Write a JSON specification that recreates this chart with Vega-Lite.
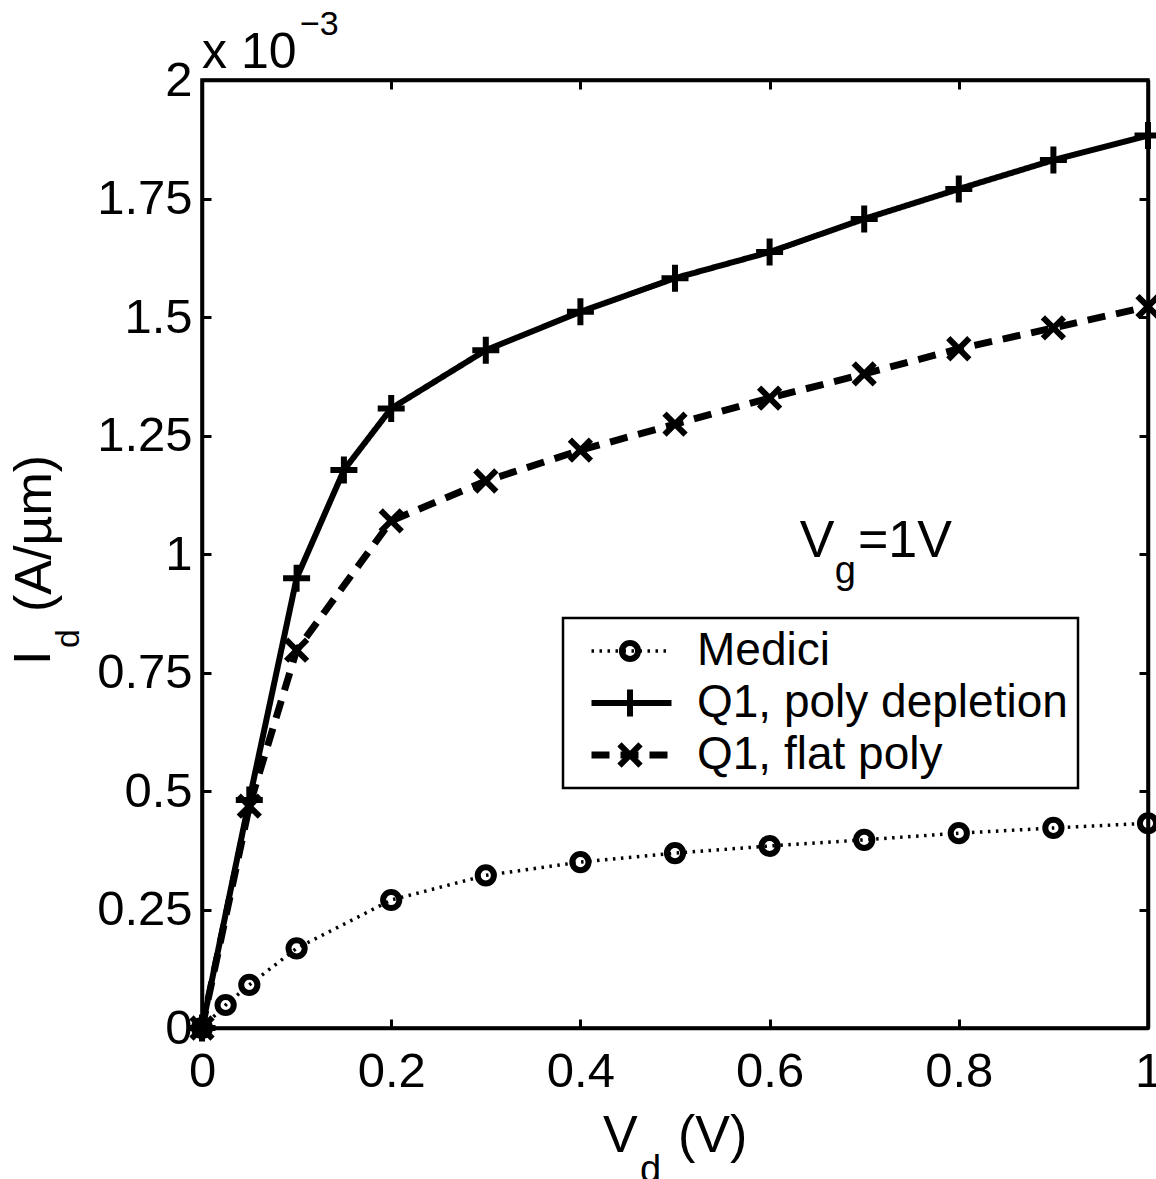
{
  "$schema": "https://vega.github.io/schema/vega-lite/v6.json",
  "width": 946,
  "height": 948,
  "autosize": {"type": "none"},
  "padding": {"left": 202, "top": 80, "right": 8, "bottom": 151},
  "background": "white",
  "config": {
    "font": "Liberation Sans",
    "view": {"stroke": "black", "strokeWidth": 3.5},
    "axis": {
      "domainColor": "black", "domainWidth": 3.5, "tickColor": "black", "tickWidth": 3,
      "grid": false, "labelColor": "black", "labelFont": "Liberation Sans", "labelFontSize": 49,
      "labelFlush": false, "labelOverlap": false
    },
    "text": {"font": "Liberation Sans", "color": "black"}
  },
  "data": {"values": [
    {"series": "Medici", "vd": 0, "id": 0},
    {"series": "Medici", "vd": 0.025, "id": 0.0000485},
    {"series": "Medici", "vd": 0.05, "id": 0.000091},
    {"series": "Medici", "vd": 0.1, "id": 0.000168},
    {"series": "Medici", "vd": 0.2, "id": 0.00027},
    {"series": "Medici", "vd": 0.3, "id": 0.000322},
    {"series": "Medici", "vd": 0.4, "id": 0.00035},
    {"series": "Medici", "vd": 0.5, "id": 0.000369},
    {"series": "Medici", "vd": 0.6, "id": 0.000384},
    {"series": "Medici", "vd": 0.7, "id": 0.000397},
    {"series": "Medici", "vd": 0.8, "id": 0.000411},
    {"series": "Medici", "vd": 0.9, "id": 0.000422},
    {"series": "Medici", "vd": 1.0, "id": 0.000432},
    {"series": "Q1, poly depletion", "vd": 0, "id": 0},
    {"series": "Q1, poly depletion", "vd": 0.05, "id": 0.000481},
    {"series": "Q1, poly depletion", "vd": 0.1, "id": 0.000949},
    {"series": "Q1, poly depletion", "vd": 0.15, "id": 0.001177},
    {"series": "Q1, poly depletion", "vd": 0.2, "id": 0.001307},
    {"series": "Q1, poly depletion", "vd": 0.3, "id": 0.00143},
    {"series": "Q1, poly depletion", "vd": 0.4, "id": 0.001511},
    {"series": "Q1, poly depletion", "vd": 0.5, "id": 0.001582},
    {"series": "Q1, poly depletion", "vd": 0.6, "id": 0.001637},
    {"series": "Q1, poly depletion", "vd": 0.7, "id": 0.001707},
    {"series": "Q1, poly depletion", "vd": 0.8, "id": 0.00177},
    {"series": "Q1, poly depletion", "vd": 0.9, "id": 0.001831},
    {"series": "Q1, poly depletion", "vd": 1.0, "id": 0.001883},
    {"series": "Q1, flat poly", "vd": 0, "id": 0},
    {"series": "Q1, flat poly", "vd": 0.05, "id": 0.000468},
    {"series": "Q1, flat poly", "vd": 0.1, "id": 0.000797},
    {"series": "Q1, flat poly", "vd": 0.2, "id": 0.00107},
    {"series": "Q1, flat poly", "vd": 0.3, "id": 0.001154},
    {"series": "Q1, flat poly", "vd": 0.4, "id": 0.001219},
    {"series": "Q1, flat poly", "vd": 0.5, "id": 0.001274},
    {"series": "Q1, flat poly", "vd": 0.6, "id": 0.001329},
    {"series": "Q1, flat poly", "vd": 0.7, "id": 0.00138},
    {"series": "Q1, flat poly", "vd": 0.8, "id": 0.001433},
    {"series": "Q1, flat poly", "vd": 0.9, "id": 0.001477},
    {"series": "Q1, flat poly", "vd": 1.0, "id": 0.001522}
  ]},
  "resolve": {"axis": {"x": "independent", "y": "independent"}},
  "layer": [
    {
      "mark": {"type": "line", "color": "black"},
      "encoding": {
        "x": {"field": "vd", "type": "quantitative",
          "scale": {"domain": [0, 1], "nice": false},
          "axis": {"orient": "bottom", "values": [0, 0.2, 0.4, 0.6, 0.8, 1], "tickSize": -9, "labelPadding": 28, "title": null, "format": "~g"}},
        "y": {"field": "id", "type": "quantitative",
          "scale": {"domain": [0, 0.002], "nice": false, "zero": false},
          "axis": {"orient": "left", "values": [0, 0.00025, 0.0005, 0.00075, 0.001, 0.00125, 0.0015, 0.00175, 0.002], "tickSize": -9, "labelPadding": 19, "title": null, "labelExpr": "format(datum.value * 1000, '.3~g')"}},
        "strokeDash": {"field": "series", "type": "nominal",
          "scale": {"domain": ["Medici", "Q1, poly depletion", "Q1, flat poly"], "range": [[2.5, 5.5], [1, 0], [18, 11]]},
          "legend": {"orient": "none", "legendX": 361, "legendY": 538, "title": null, "direction": "vertical",
            "symbolType": "stroke", "symbolSize": 6400, "symbolStrokeColor": "black", "clipHeight": 46,
            "labelFontSize": 46, "labelFont": "Liberation Sans", "labelColor": "black", "labelLimit": 1000,
            "labelOffset": 22, "padding": 10, "symbolOffset": 15, "rowPadding": 6, "strokeColor": "black",
            "labelExpr": "datum.label + '\u00a0\u00a0'",
            "encode": {"legend": {"update": {"strokeWidth": {"value": 2.5}}}}}},
        "strokeWidth": {"field": "series", "type": "nominal",
          "scale": {"type": "ordinal", "domain": ["Medici", "Q1, poly depletion", "Q1, flat poly"], "range": [3.5, 6, 7]},
          "legend": {"orient": "none", "legendX": 361, "legendY": 538, "title": null, "direction": "vertical",
            "symbolType": "stroke", "symbolSize": 6400, "symbolStrokeColor": "black", "clipHeight": 46,
            "labelFontSize": 46, "labelFont": "Liberation Sans", "labelColor": "black", "labelLimit": 1000,
            "labelOffset": 22, "padding": 10, "symbolOffset": 15, "rowPadding": 6, "strokeColor": "black",
            "labelExpr": "datum.label + '\u00a0\u00a0'",
            "encode": {"legend": {"update": {"strokeWidth": {"value": 2.5}}}}}}
      }
    },
    {
      "mark": {"type": "point", "filled": false, "color": "black", "strokeWidth": 6, "size": 729, "opacity": 1},
      "encoding": {
        "x": {"field": "vd", "type": "quantitative",
          "axis": {"orient": "top", "values": [0, 0.2, 0.4, 0.6, 0.8, 1], "labels": false, "tickSize": -9, "title": null}},
        "y": {"field": "id", "type": "quantitative",
          "axis": {"orient": "right", "values": [0, 0.00025, 0.0005, 0.00075, 0.001, 0.00125, 0.0015, 0.00175, 0.002], "labels": false, "tickSize": -9, "title": null}},
        "shape": {"field": "series", "type": "nominal", "sort": ["Medici", "Q1, poly depletion", "Q1, flat poly"],
          "scale": {"range": [
            "M-0.6,0A0.6,0.6 0 1,0 0.6,0A0.6,0.6 0 1,0 -0.6,0Z",
            "M-1,0H1M0,-1V1",
            "M-0.78,-0.78L0.78,0.78M-0.78,0.78L0.78,-0.78"
          ]},
          "legend": {"orient": "none", "legendX": 361, "legendY": 538, "title": null, "direction": "vertical",
            "symbolSize": 729, "symbolStrokeWidth": 6, "symbolStrokeColor": "black", "symbolFillColor": "transparent", "clipHeight": 46,
            "labelFontSize": 46, "labelExpr": "''", "padding": 10, "symbolOffset": 34, "rowPadding": 6}}
      }
    },
    {
      "data": {"values": [{}]},
      "mark": {"type": "text", "text": "x 10", "fontSize": 50, "align": "left", "baseline": "alphabetic"},
      "encoding": {"x": {"datum": 0, "type": "quantitative", "axis": null}, "y": {"datum": 0.0020253, "type": "quantitative", "axis": null}}
    },
    {
      "data": {"values": [{}]},
      "mark": {"type": "text", "text": "−3", "fontSize": 34, "align": "left", "baseline": "alphabetic"},
      "encoding": {"x": {"datum": 0.1036, "type": "quantitative", "axis": null}, "y": {"datum": 0.0020949, "type": "quantitative", "axis": null}}
    },
    {
      "data": {"values": [{}]},
      "mark": {"type": "text", "text": "V", "fontSize": 52, "align": "left", "baseline": "alphabetic"},
      "encoding": {"x": {"datum": 0.632, "type": "quantitative", "axis": null}, "y": {"datum": 0.0009937, "type": "quantitative", "axis": null}}
    },
    {
      "data": {"values": [{}]},
      "mark": {"type": "text", "text": "g", "fontSize": 38, "align": "left", "baseline": "alphabetic"},
      "encoding": {"x": {"datum": 0.669, "type": "quantitative", "axis": null}, "y": {"datum": 0.000939, "type": "quantitative", "axis": null}}
    },
    {
      "data": {"values": [{}]},
      "mark": {"type": "text", "text": "=1V", "fontSize": 52, "align": "left", "baseline": "alphabetic"},
      "encoding": {"x": {"datum": 0.6934, "type": "quantitative", "axis": null}, "y": {"datum": 0.0009937, "type": "quantitative", "axis": null}}
    },
    {
      "data": {"values": [{}]},
      "mark": {"type": "text", "text": "V", "fontSize": 52, "align": "left", "baseline": "alphabetic"},
      "encoding": {"x": {"datum": 0.4239, "type": "quantitative", "axis": null}, "y": {"datum": -0.0002616, "type": "quantitative", "axis": null}}
    },
    {
      "data": {"values": [{}]},
      "mark": {"type": "text", "text": "d", "fontSize": 38, "align": "left", "baseline": "alphabetic"},
      "encoding": {"x": {"datum": 0.463, "type": "quantitative", "axis": null}, "y": {"datum": -0.000325, "type": "quantitative", "axis": null}}
    },
    {
      "data": {"values": [{}]},
      "mark": {"type": "text", "text": "(V)", "fontSize": 52, "align": "left", "baseline": "alphabetic"},
      "encoding": {"x": {"datum": 0.5032, "type": "quantitative", "axis": null}, "y": {"datum": -0.0002616, "type": "quantitative", "axis": null}}
    },
    {
      "data": {"values": [{}]},
      "mark": {"type": "text", "text": "I", "fontSize": 52, "align": "left", "baseline": "alphabetic", "angle": 270},
      "encoding": {"x": {"datum": -0.1607, "type": "quantitative", "axis": null}, "y": {"datum": 0.000766, "type": "quantitative", "axis": null}}
    },
    {
      "data": {"values": [{}]},
      "mark": {"type": "text", "text": "d", "fontSize": 34, "align": "left", "baseline": "alphabetic", "angle": 270},
      "encoding": {"x": {"datum": -0.130, "type": "quantitative", "axis": null}, "y": {"datum": 0.0008017, "type": "quantitative", "axis": null}}
    },
    {
      "data": {"values": [{}]},
      "mark": {"type": "text", "text": "(A/µm)", "fontSize": 52, "align": "left", "baseline": "alphabetic", "angle": 270},
      "encoding": {"x": {"datum": -0.1596, "type": "quantitative", "axis": null}, "y": {"datum": 0.0008776, "type": "quantitative", "axis": null}}
    }
  ]
}
